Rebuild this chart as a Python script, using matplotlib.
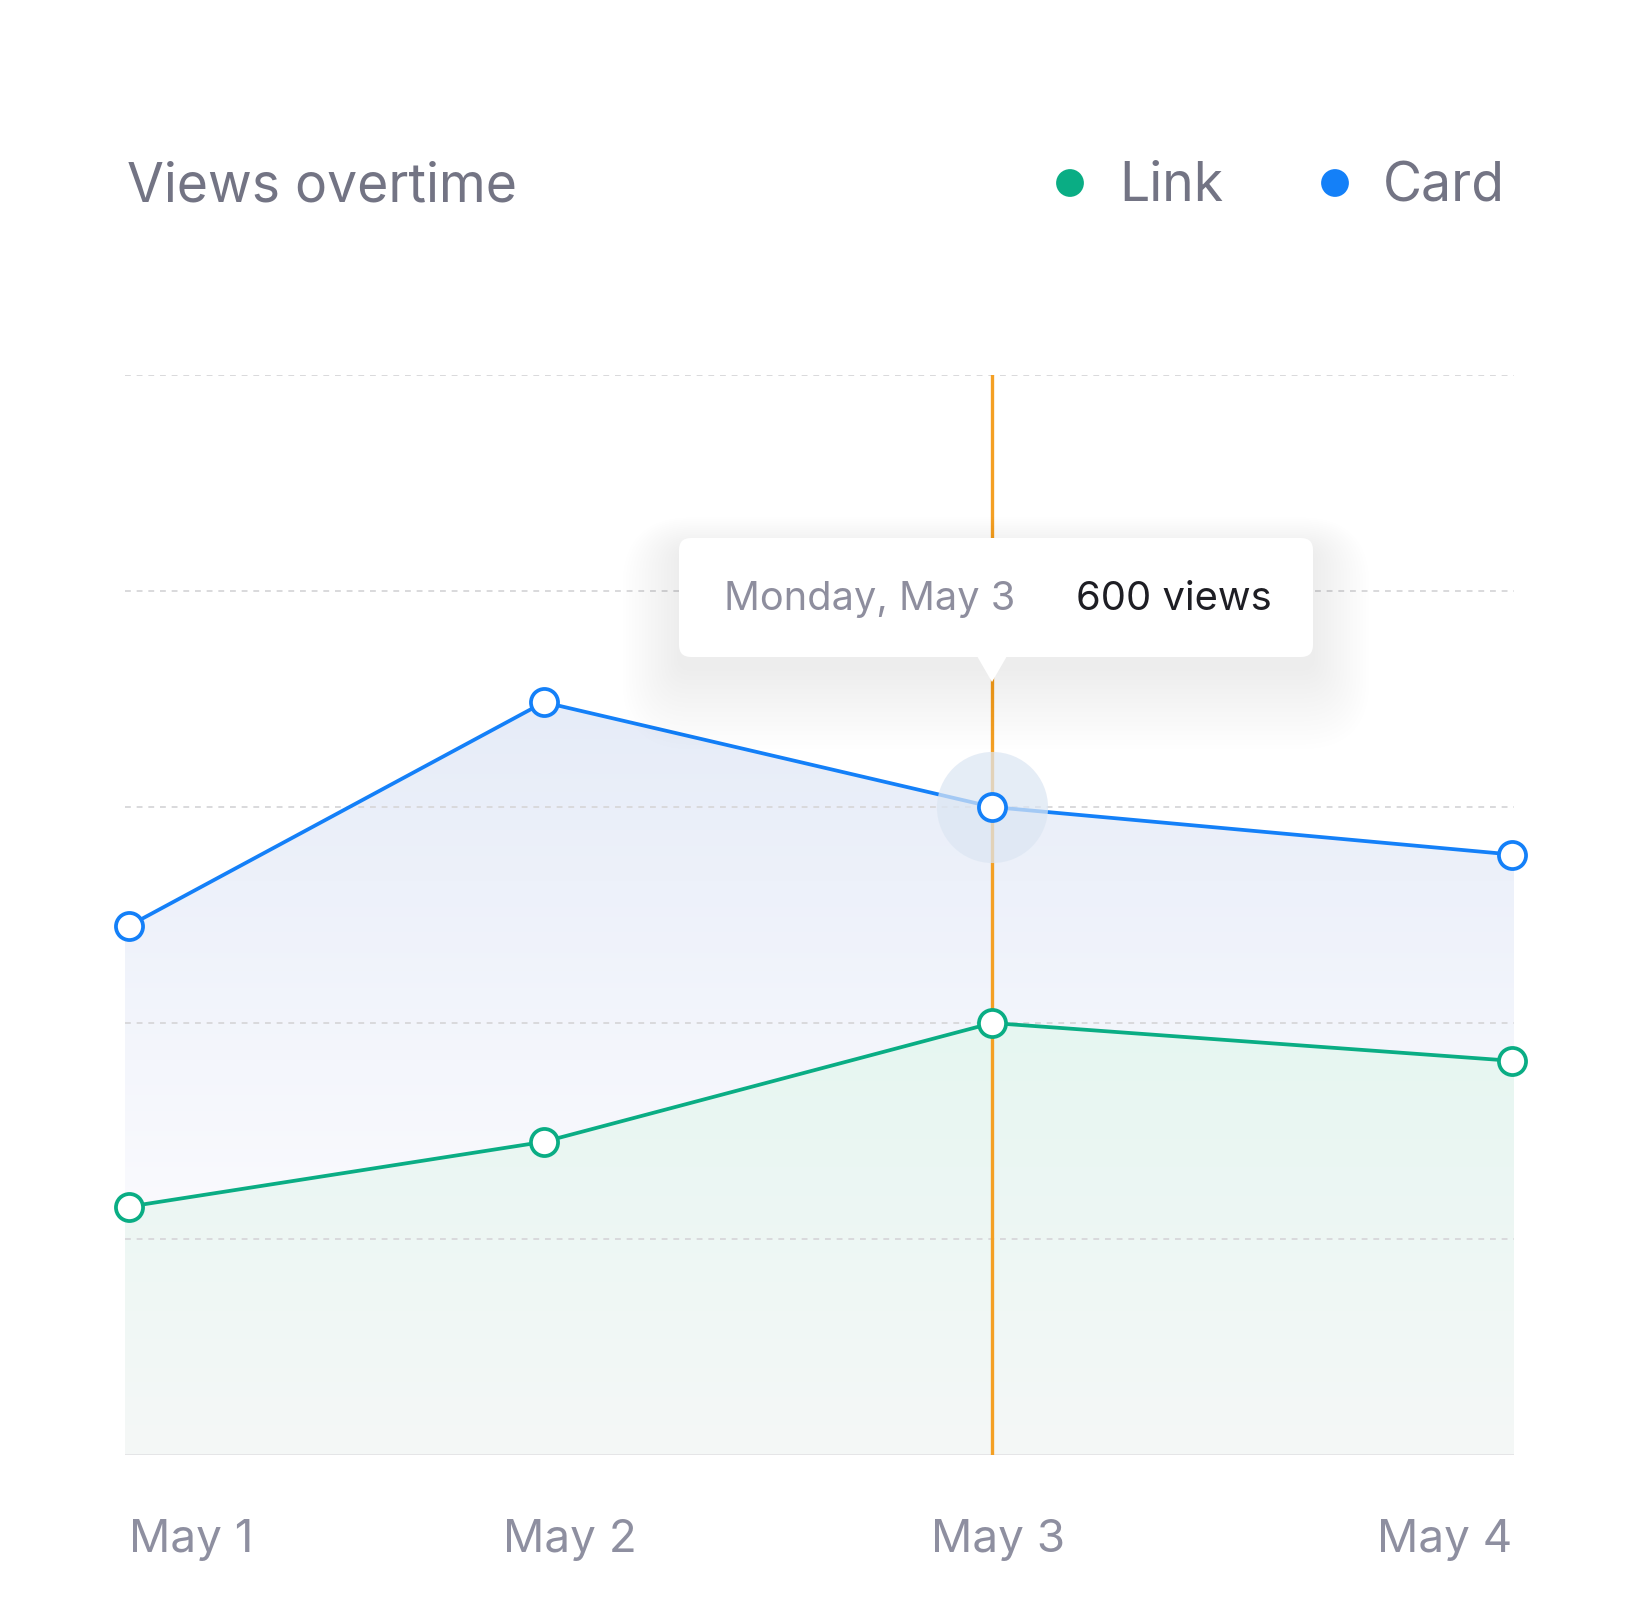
import numpy as np
import matplotlib as mpl
mpl.use('Agg')
import matplotlib.pyplot as plt
from matplotlib.patches import FancyBboxPatch, Polygon

plt.rcParams['font.family'] = ['Inter', 'DejaVu Sans']

# data (x = day offset of each sample)
day_x = [0.0, 0.9, 1.873, 3.0]
link_views = [230, 290, 400, 365]
card_views = [490, 697, 600, 556]
tick_pos = [0.0, 0.957, 1.885, 3.0]
tick_labels = ['May 1', 'May 2', 'May 3', 'May 4']
grid_vals = [200, 400, 600, 800, 1000]
hover_idx = 2
tooltip_date = 'Monday, May 3'
tooltip_value = '600 views'

green = '#0AAD84'
blue = '#1480F8'
orange = '#F4A024'
title_gray = '#737484'
label_gray = '#8E8FA0'

W, H = 1644, 1620
fig = plt.figure(figsize=(W / 100, H / 100), dpi=100)
fig.patch.set_facecolor('white')

# main plot area in pixel terms
left, right, top, bottom = 125, 1514, 375, 1455
ax = fig.add_axes([left / W, 1 - bottom / H, (right - left) / W, (bottom - top) / H])
ax.set_zorder(1)
for s in ax.spines.values():
    s.set_visible(False)
ax.set_xticks([])
ax.set_yticks([])
ax.patch.set_alpha(0)

px_per_day = (1512 - 129) / 3.0
xlim = (-4 / px_per_day, 3 + 2 / px_per_day)
ylim = (0, 1000)


def gradient_fill(x, y, c_top, c_bot, z, y_bot=0):
    # area runs out to the axes edges like the original
    xs = [xlim[0]] + list(x) + [xlim[1]]
    ys = [y[0]] + list(y) + [y[-1]]
    poly = ax.fill_between(xs, ys, 0, color='none', lw=0, zorder=z)
    ct = np.array(mpl.colors.to_rgb(c_top))
    cb = np.array(mpl.colors.to_rgb(c_bot))
    t = np.linspace(0, 1, 256).reshape(-1, 1, 1)
    img = cb * (1 - t) + ct * t
    im = ax.imshow(img, extent=[xlim[0], xlim[1], y_bot, max(y)], origin='lower',
                   aspect='auto', zorder=z, interpolation='bilinear')
    im.set_clip_path(poly.get_paths()[0], transform=ax.transData)


gradient_fill(day_x, card_views, '#E6ECF8', '#FBFBFE', 2, y_bot=200)
gradient_fill(day_x, link_views, '#E6F6F1', '#F5F8F7', 3)

for g in grid_vals:
    ax.axhline(g, color='#D9D9DC', lw=1.4, ls=(0, (3, 3)), zorder=3.5)

ax.axhline(0, color='#E0E0E3', lw=1.8, zorder=4)
ax.axvline(day_x[hover_idx], color=orange, lw=2.4, zorder=5)

ax.plot(day_x, card_views, color=blue, lw=2.7, zorder=6, solid_capstyle='round')
ax.plot(day_x, link_views, color=green, lw=2.7, zorder=6, solid_capstyle='round')

# hover halo
ax.scatter([day_x[hover_idx]], [card_views[hover_idx]], s=80 ** 2, color='#DCE6F3',
           alpha=0.72, lw=0, zorder=7)

for vals, c in [(card_views, blue), (link_views, green)]:
    ax.plot(day_x, vals, ls='none', marker='o', ms=19.5, mfc='white', mec=c, mew=2.7,
            zorder=8, clip_on=False)

ax.set_xlim(*xlim)
ax.set_ylim(*ylim)

# x labels
lab_y = (bottom - 1552) / (bottom - top)
for xp, lab, ha in zip(tick_pos, tick_labels, ['left', 'center', 'center', 'right']):
    ax.text(xp, lab_y, lab, transform=ax.get_xaxis_transform(), ha=ha, va='baseline',
            fontsize=33, color=label_gray, clip_on=False)

# overlay in pixel coords (y down)
ov = fig.add_axes([0, 0, 1, 1])
ov.set_zorder(5)
ov.set_xlim(0, W)
ov.set_ylim(H, 0)
ov.axis('off')

ov.text(127, 201, 'Views overtime', fontsize=38.5, color=title_gray, ha='left', va='baseline')
ov.scatter([1070, 1335], [183, 183], s=20 ** 2, color=[green, blue], lw=0)
ov.text(1119, 201, 'Link', fontsize=38.5, color=title_gray, ha='left', va='baseline')
ov.text(1383, 201, 'Card', fontsize=38.5, color=title_gray, ha='left', va='baseline')

# tooltip with soft drop shadow (mostly below the box)
bx0, by0, bx1, by1 = 679, 538, 1313, 657
for i in range(18):
    p = 2 + 3.2 * i
    off = 12 + 1.4 * i
    ov.add_patch(FancyBboxPatch((bx0 - p, by0 - p + off), bx1 - bx0 + 2 * p, by1 - by0 + 2 * p,
                                boxstyle='round,pad=0,rounding_size=%g' % (12 + p),
                                fc='black', ec='none', alpha=0.0048))
ov.add_patch(FancyBboxPatch((bx0, by0), bx1 - bx0, by1 - by0,
                            boxstyle='round,pad=0,rounding_size=12', fc='white', ec='none'))
ov.add_patch(Polygon([(977, by1 - 1), (1007, by1 - 1), (992, 682)], closed=True,
                     fc='white', ec='none'))
ov.text(724, 610, tooltip_date, fontsize=28.6, color='#8E8E9E', ha='left', va='baseline')
ov.text(1076, 610, tooltip_value, fontsize=28.8, color='#1E1E24', ha='left', va='baseline')

fig.savefig('out.png', dpi=100, facecolor='white')
